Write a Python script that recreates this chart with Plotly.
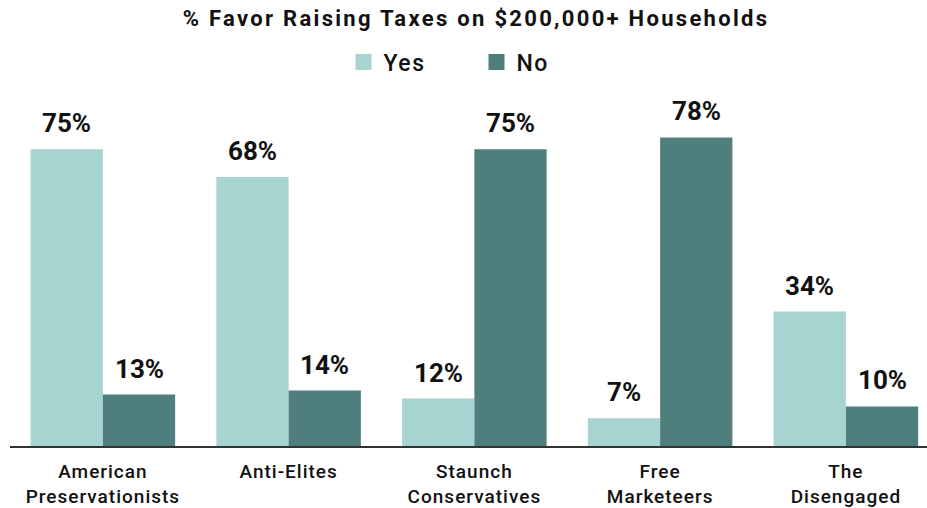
import plotly.graph_objects as go

# Survey segments and share favoring / opposing the tax increase
segments = ["American<br>Preservationists", "Anti-Elites", "Staunch<br>Conservatives",
            "Free<br>Marketeers", "The<br>Disengaged"]
yes_pct = [75, 68, 12, 7, 34]
no_pct = [13, 14, 75, 78, 10]

YES_COLOR = "#A7D4D1"
NO_COLOR = "#4E7F7C"
FONT = "Roboto"
INK = "#111111"

idx = list(range(len(segments)))
bargap = 0.222
half = (1 - bargap) / 4  # offset of each bar centre from the group centre

fig = go.Figure()
fig.add_trace(go.Bar(name="Yes", x=idx, y=yes_pct, marker_color=YES_COLOR,
                     marker_line_width=0, showlegend=False))
fig.add_trace(go.Bar(name="No", x=idx, y=no_pct, marker_color=NO_COLOR,
                     marker_line_width=0, showlegend=False))

# legend entries with larger square swatches
for name, color in (("Yes", YES_COLOR), ("No", NO_COLOR)):
    fig.add_trace(go.Scatter(name=name, x=[None], y=[None], mode="markers",
                             marker=dict(symbol="square", size=16, color=color),
                             showlegend=True))

# value labels above each bar
for i in idx:
    for val, off in ((yes_pct[i], -half), (no_pct[i], half)):
        fig.add_annotation(x=i + off, y=val, text=f"{val}%", showarrow=False,
                           yanchor="bottom", yshift=9,
                           font=dict(family=FONT, size=26, color=INK, weight=700))

fig.update_layout(
    width=927, height=508,
    margin=dict(l=10, r=0, t=90, b=62, autoexpand=False),
    paper_bgcolor="white", plot_bgcolor="white",
    barmode="group", bargap=bargap, bargroupgap=0,
    title=dict(text="% Favor Raising Taxes on $200,000+ Households",
               x=0.5135, xanchor="center", y=1 - 18 / 508, yanchor="middle",
               font=dict(family=FONT, size=22, color=INK, weight=700)),
    legend=dict(orientation="h", x=(343.5 - 10) / 917, xanchor="left",
                y=1 + (90 - 62) / 356, yanchor="middle",
                entrywidth=88, itemsizing="trace",
                font=dict(family=FONT, size=23, color=INK, weight=500),
                bgcolor="rgba(0,0,0,0)"),
    showlegend=True,
    xaxis=dict(tickmode="array", tickvals=idx, ticktext=segments,
               range=[-0.5, -0.5 + 917 / 185.75], automargin=False,
               showline=True, linecolor="#333333", linewidth=2,
               ticks="", showgrid=False, zeroline=False, ticklabelstandoff=7,
               tickfont=dict(family=FONT, size=19, color=INK, weight=500)),
    yaxis=dict(range=[0, 90], visible=False, showgrid=False, zeroline=False,
               automargin=False),
)

# letter tracking for title, legend and category labels
tracking = """
var gd = document.getElementById('{plot_id}');
function track() {
  gd.querySelectorAll('.gtitle').forEach(function(e) { e.style.letterSpacing = '2.3px'; });
  gd.querySelectorAll('.legendtext').forEach(function(e) { e.style.letterSpacing = '1.5px'; });
  gd.querySelectorAll('.xtick text').forEach(function(e) { e.style.letterSpacing = '1px'; });
}
track();
gd.on('plotly_afterplot', track);
"""

fig.write_html("out.html", post_script=tracking)
